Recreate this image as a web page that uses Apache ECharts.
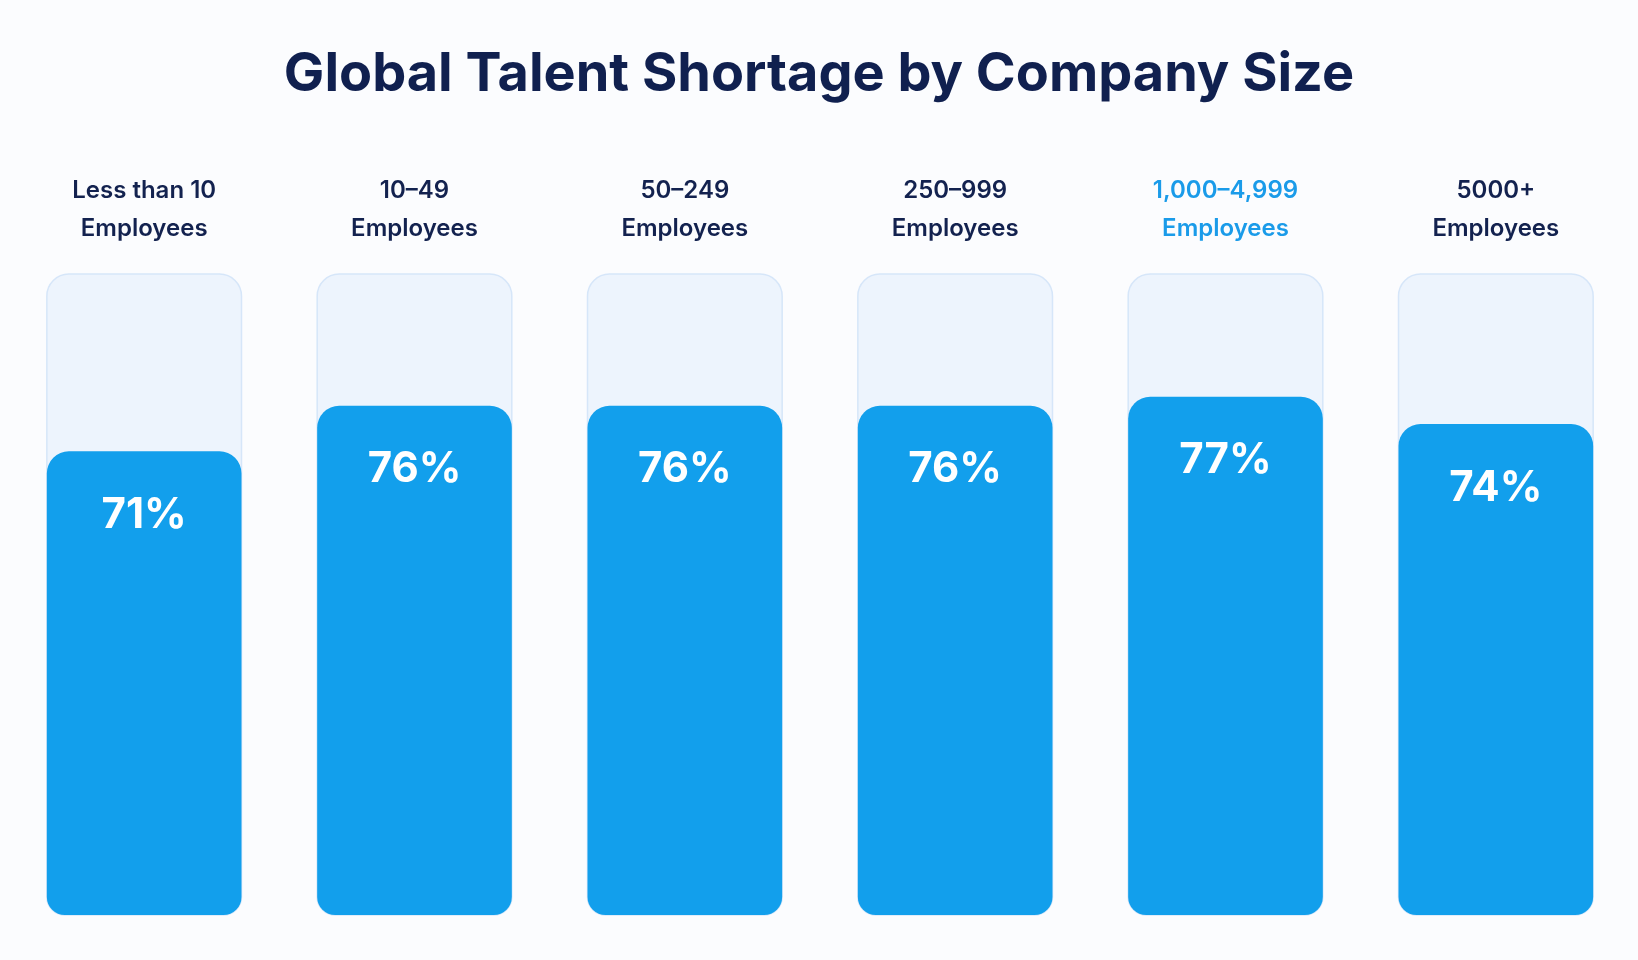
<!doctype html>
<html lang="en">
<head>
    <meta charset="UTF-8">
    <title>Global Talent Shortage by Company Size</title>
    <style>
        html, body { margin: 0; padding: 0; background: #fbfcfe; }
        #main { width: 1638px; height: 960px; }
    </style>
    <script src="https://cdn.jsdelivr.net/npm/echarts@6/dist/echarts.min.js"></script>
</head>
<body>
    <div id="main"></div>
    <script>
        var categories = ['Less than 10\nEmployees', '10\u201349\nEmployees', '50\u2013249\nEmployees',
            '250\u2013999\nEmployees', '1,000\u20134,999\nEmployees', '5000+\nEmployees'];
        var shortage = [71, 76, 76, 76, 77, 74];
        var highlightIndex = 4;

        window.onload = function () {
            var chartDom = document.getElementById('main');
            var myChart = echarts.init(chartDom);

            var axisData = categories.map(function (name, i) {
                if (i === highlightIndex) {
                    return { value: name, textStyle: { color: '#1a9be9' } };
                }
                return name;
            });

            var option = {
                backgroundColor: '#fbfcfe',
                title: {
                    text: 'Global Talent Shortage by Company Size',
                    left: 'center',
                    top: 43,
                    textStyle: {
                        fontFamily: 'Inter',
                        fontSize: 54,
                        fontWeight: 700,
                        color: '#10204f'
                    }
                },
                grid: { left: 9, right: 7, top: 274, bottom: 45 },
                xAxis: {
                    type: 'category',
                    position: 'top',
                    data: axisData,
                    axisLine: { show: false },
                    axisTick: { show: false },
                    axisLabel: {
                        margin: 26,
                        fontFamily: 'Inter',
                        fontSize: 24,
                        fontWeight: 600,
                        lineHeight: 38,
                        color: '#13224f'
                    }
                },
                yAxis: {
                    type: 'value',
                    min: 20,
                    max: 90.5,
                    show: false,
                    splitLine: { show: false }
                },
                series: [
                    {
                        type: 'bar',
                        data: shortage,
                        barWidth: '72%',
                        showBackground: true,
                        backgroundStyle: {
                            color: '#edf4fd',
                            borderColor: '#d6e6f9',
                            borderWidth: 1.5,
                            borderRadius: [22, 22, 18, 18]
                        },
                        itemStyle: {
                            color: '#129fec',
                            borderRadius: [22, 22, 18, 18]
                        },
                        label: {
                            show: true,
                            position: 'insideTop',
                            distance: 43,
                            formatter: '{c}%',
                            fontFamily: 'Inter',
                            fontSize: 42,
                            fontWeight: 700,
                            color: '#ffffff'
                        }
                    }
                ]
            };
            myChart.setOption(option);
        };
    </script>
</body>
</html>
